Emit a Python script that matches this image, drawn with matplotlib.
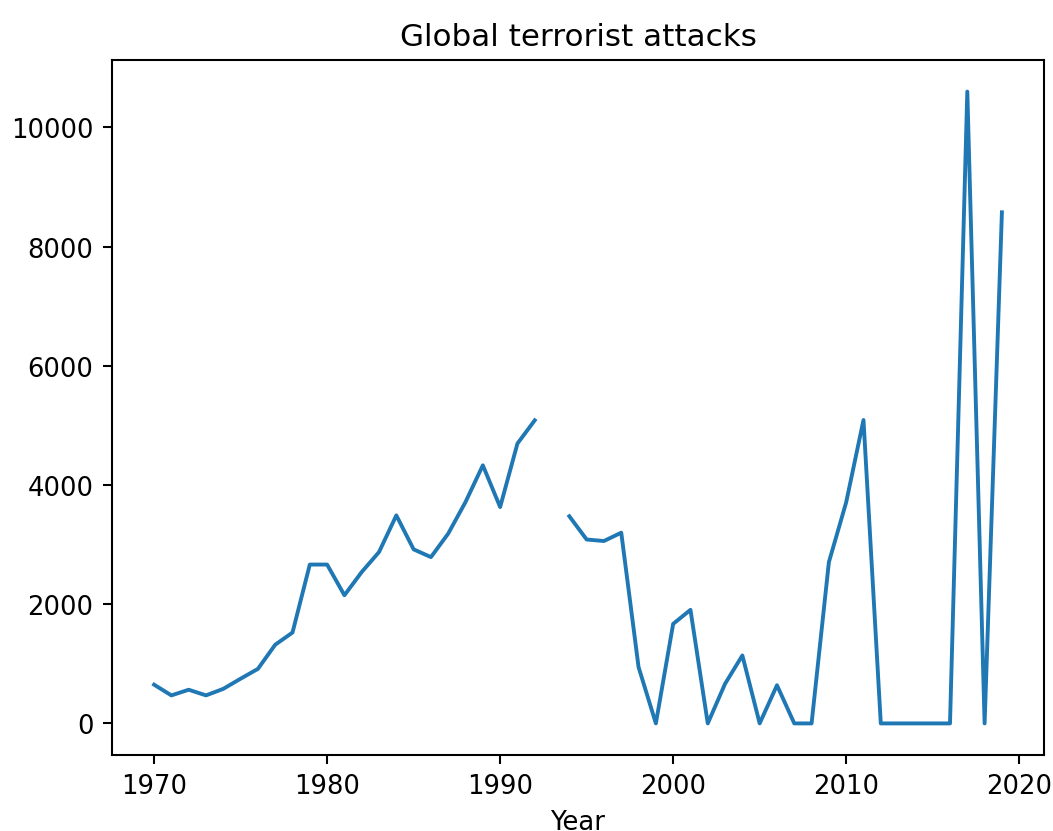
import numpy as np
import matplotlib
matplotlib.use("Agg")
import matplotlib.pyplot as plt

# Yearly count of attacks, 1970-2019 (1993 has no record)
years = list(range(1970, 2020))
attacks = [
    650, 470, 565, 470, 580, 750, 915, 1320, 1525, 2665,   # 1970-1979
    2665, 2150, 2540, 2875, 3490, 2920, 2790, 3185, 3715, 4330,  # 1980-1989
    3630, 4695, 5085, np.nan, 3475, 3085, 3060, 3200, 945, 0,  # 1990-1999
    1670, 1905, 0, 665, 1140, 0, 640, 0, 0, 2705,  # 2000-2009
    3710, 5090, 0, 0, 0, 0, 0, 10600, 0, 8575,  # 2010-2019
]

DPI = 186
fig = plt.figure(figsize=(1053 / DPI, 832 / DPI), dpi=DPI)
ax = fig.add_axes([111.7 / 1053, 76 / 832, (1044.3 - 111.7) / 1053, (756 - 61) / 832])

ax.plot(years, attacks, color="#1f77b4", linewidth=1.5)
ax.set_title("Global terrorist attacks", fontsize=12)
ax.set_xlabel("Year")
ax.set_xticks([1970, 1980, 1990, 2000, 2010, 2020])
ax.set_yticks([0, 2000, 4000, 6000, 8000, 10000])

fig.savefig("out.png", dpi=DPI)
